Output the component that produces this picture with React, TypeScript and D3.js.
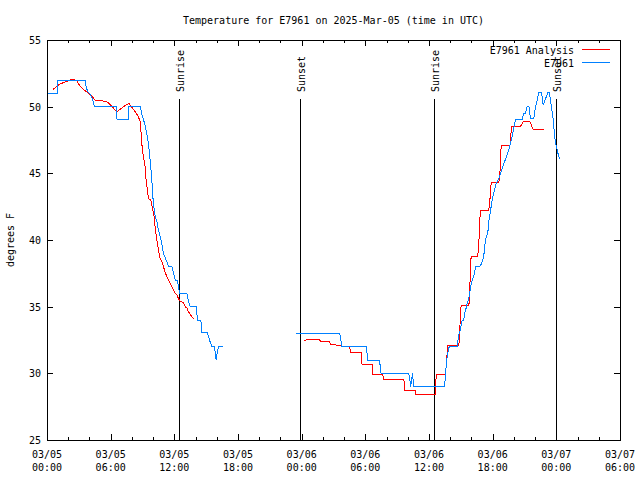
import React from "react";
import * as d3 from "d3";

// ---- data (hours since 2025-03-05 00:00 UTC, degrees F) ----
const START = Date.UTC(2025, 2, 5, 0, 0);
const END = Date.UTC(2025, 2, 7, 6, 0);

const analysisSeries: [number, number | null][] = [
  [0.59, 51.3], [0.97, 51.55], [1.23, 51.7], [1.86, 51.9], [2.17, 52.0], [2.48, 52.05],
  [2.8, 51.95], [2.95, 51.75], [3.11, 51.55], [3.42, 51.3], [3.84, 51.05], [4.06, 50.9],
  [4.31, 50.7], [4.53, 50.5], [5.0, 50.45], [5.47, 50.4], [5.78, 50.3], [6.01, 50.1],
  [6.25, 49.9], [6.58, 49.6], [6.89, 49.8], [7.2, 50.0], [7.52, 50.15], [7.71, 50.25],
  [7.9, 50.05], [8.14, 49.8], [8.37, 49.55], [8.61, 49.25], [8.77, 48.9], [8.87, 48.0],
  [8.93, 47.25], [9.08, 46.25], [9.25, 45.5], [9.34, 44.5], [9.46, 43.75], [9.56, 43.1],
  [9.78, 43.0], [9.97, 42.25], [10.09, 41.75], [10.19, 41.0], [10.35, 40.0], [10.5, 39.25],
  [10.66, 38.6], [10.82, 38.4], [10.97, 38.0], [11.13, 37.6], [11.29, 37.25], [11.44, 37.0],
  [11.6, 36.75], [11.76, 36.5], [11.92, 36.25], [12.08, 36.0], [12.24, 35.9], [12.39, 35.6],
  [12.55, 35.4], [12.86, 35.3], [13.02, 35.0], [13.18, 34.9], [13.33, 34.6], [13.49, 34.45],
  [13.65, 34.25], [13.8, 34.1],
  [18.0, null],
  [24.18, 32.45], [24.65, 32.55], [25.7, 32.55], [25.75, 32.4], [26.63, 32.4], [26.7, 32.15],
  [27.7, 32.1], [27.76, 32.05], [28.49, 32.0], [28.63, 31.6], [29.62, 31.6], [29.69, 30.7],
  [30.63, 30.7], [30.71, 29.9], [31.65, 29.9], [31.73, 29.55], [33.63, 29.55], [33.73, 28.75],
  [34.67, 28.75], [34.76, 28.45], [36.6, 28.45], [36.68, 29.9], [37.55, 29.9], [37.61, 30.5],
  [37.71, 31.5], [37.78, 32.1], [38.8, 32.1], [38.87, 32.6], [38.96, 34.4], [39.03, 35.1],
  [39.75, 35.1], [39.81, 35.5], [39.91, 37.9], [39.97, 38.75], [40.59, 38.75], [40.69, 39.6],
  [40.78, 41.4], [40.85, 42.25], [41.63, 42.25], [41.73, 42.9], [41.86, 44.3], [42.58, 44.3],
  [42.67, 44.9], [42.74, 45.75], [42.8, 47.1], [43.63, 47.1], [43.74, 48.1], [43.82, 48.5],
  [44.62, 48.5], [44.78, 48.75], [44.93, 48.9], [45.5, 48.9], [45.71, 48.5], [45.82, 48.3],
  [46.84, 48.3],
];

const observedSeries: [number, number | null][] = [
  [0.1, 51.0], [0.95, 51.0], [0.98, 52.0], [3.65, 52.0], [3.68, 51.5], [3.85, 51.1], [4.0, 51.0],
  [4.2, 50.75], [4.35, 50.4], [4.45, 50.05], [6.5, 50.05], [6.6, 49.05], [7.65, 49.05],
  [7.72, 50.05], [8.77, 50.05], [8.95, 49.4], [9.1, 49.0], [9.25, 48.6], [9.4, 48.0],
  [9.56, 47.25], [9.72, 46.0], [9.88, 44.5], [10.0, 43.0], [10.16, 41.9], [10.35, 41.4],
  [10.5, 40.75], [10.66, 40.25], [10.82, 39.75], [10.97, 39.0], [11.23, 38.5], [11.44, 38.05],
  [11.76, 38.05], [11.92, 37.5], [12.08, 37.0], [12.29, 37.0], [12.39, 36.5], [12.48, 36.0],
  [13.18, 36.0], [13.33, 35.4], [13.49, 35.0], [14.06, 35.0], [14.18, 34.0], [14.5, 34.0],
  [14.59, 33.05], [15.12, 33.05], [15.31, 32.5], [15.54, 32.0], [15.75, 32.0], [15.85, 31.6],
  [15.94, 31.0], [16.07, 31.7], [16.2, 32.0], [16.58, 32.0],
  [20.0, null],
  [23.49, 33.0], [27.58, 33.0], [27.71, 32.4], [27.74, 32.05], [30.07, 32.05], [30.16, 31.5],
  [30.25, 30.95], [31.32, 30.95], [31.42, 30.5], [31.48, 30.0], [34.08, 30.0], [34.18, 29.6],
  [34.27, 29.0], [34.37, 29.6], [34.46, 30.0], [34.53, 29.05], [37.48, 29.05], [37.58, 30.25],
  [37.71, 31.25], [37.86, 31.9], [37.95, 32.05], [38.65, 32.05], [38.8, 32.9], [38.9, 33.1],
  [39.03, 33.6], [39.12, 34.0], [39.27, 34.0], [39.37, 34.5], [39.5, 34.9], [39.59, 35.25],
  [39.75, 35.6], [39.84, 36.0], [39.91, 36.4], [40.0, 36.75], [40.12, 37.1], [40.28, 37.5],
  [40.38, 38.0], [40.85, 38.05], [41.01, 38.4], [41.16, 38.75], [41.23, 39.4], [41.32, 40.0],
  [41.48, 40.4], [41.57, 40.75], [41.63, 41.4], [41.73, 41.75], [41.79, 42.25], [41.89, 42.6],
  [41.95, 43.0], [42.05, 43.4], [42.17, 43.75], [42.26, 44.05], [42.42, 44.4], [42.58, 44.6],
  [42.74, 45.0], [42.9, 45.4], [43.05, 45.75], [43.21, 46.05], [43.37, 46.4], [43.52, 46.75],
  [43.68, 47.25], [43.84, 47.75], [43.99, 48.4], [44.15, 49.05], [44.78, 49.05], [44.93, 49.5],
  [45.09, 49.5], [45.25, 50.05], [45.41, 50.05], [45.57, 49.1], [45.88, 49.1], [46.04, 50.0],
  [46.2, 50.5], [46.35, 51.05], [46.6, 51.05], [46.68, 50.6], [46.76, 50.1], [46.89, 50.4],
  [47.08, 50.8], [47.2, 51.05], [47.33, 51.05], [47.45, 50.5], [47.61, 49.6], [47.71, 49.0],
  [47.76, 48.5], [47.92, 47.25], [48.08, 46.75], [48.23, 46.25], [48.33, 46.05],
];

const sunEvents: [number, string][] = [
  [12.45, "Sunrise"],
  [23.85, "Sunset"],
  [36.47, "Sunrise"],
  [47.97, "Sunset"],
];

const yTicks = [25, 30, 35, 40, 45, 50, 55];
const seriesNames = ["E7961 Analysis", "E7961"];
const seriesColors = ["#ff0000", "#0080ff"];
const titleText = "Temperature for E7961 on 2025-Mar-05 (time in UTC)";
const yLabel = "degrees F";

const W = 640;
const H = 480;
const L = 47;
const R = 620;
const T = 40;
const B = 440;
const FONT = "'DejaVu Sans Mono', monospace";

const toDate = (h: number) => new Date(START + h * 3600e3);

export default function App() {
  const x = d3.scaleUtc().domain([new Date(START), new Date(END)]).range([L, R]);
  const y = d3.scaleLinear().domain([25, 55]).range([B, T]);

  const line = d3
    .line<[number, number | null]>()
    .defined((d) => d[1] !== null)
    .x((d) => x(toDate(d[0])))
    .y((d) => y(d[1] as number));

  const majorTicks = x.ticks(d3.utcHour.every(6) as any);
  const minorTicks = x.ticks(d3.utcHour.every(2) as any);
  const fDate = d3.utcFormat("%m/%d");
  const fTime = d3.utcFormat("%H:%M");
  const px = (v: number) => Math.round(v) + 0.5;

  return (
    <svg
      width={W}
      height={H}
      style={{ position: "absolute", left: 0, top: 0, background: "#fff" }}
      fontFamily={FONT}
      fontSize={10}
    >
      <rect x={0} y={0} width={W} height={H} fill="#fff" />
      {/* title */}
      <text x={(L + R) / 2} y={24} textAnchor="middle" fill="#000">
        {titleText}
      </text>
      {/* y label */}
      <text
        transform={`translate(14,${(T + B) / 2}) rotate(-90)`}
        textAnchor="middle"
        fill="#000"
      >
        {yLabel}
      </text>

      {/* ticks */}
      <g stroke="#000" strokeWidth={1} shapeRendering="crispEdges">
        {minorTicks.map((t, i) => (
          <g key={"mn" + i}>
            <line x1={px(x(t))} x2={px(x(t))} y1={B} y2={B - 3} />
            <line x1={px(x(t))} x2={px(x(t))} y1={T} y2={T + 3} />
          </g>
        ))}
        {majorTicks.map((t, i) => (
          <g key={"mj" + i}>
            <line x1={px(x(t))} x2={px(x(t))} y1={B} y2={B - 6} />
            <line x1={px(x(t))} x2={px(x(t))} y1={T} y2={T + 6} />
          </g>
        ))}
        {yTicks.map((v) => (
          <g key={"yt" + v}>
            <line x1={L} x2={L + 6} y1={px(y(v))} y2={px(y(v))} />
            <line x1={R - 6} x2={R} y1={px(y(v))} y2={px(y(v))} />
          </g>
        ))}
      </g>

      {/* tick labels */}
      {yTicks.map((v) => (
        <text key={"yl" + v} x={L - 6} y={y(v) + 4} textAnchor="end" fill="#000">
          {v}
        </text>
      ))}
      {majorTicks.map((t, i) => (
        <g key={"xl" + i}>
          <text x={x(t)} y={458} textAnchor="middle" fill="#000">
            {fDate(t)}
          </text>
          <text x={x(t)} y={471} textAnchor="middle" fill="#000">
            {fTime(t)}
          </text>
        </g>
      ))}

      {/* sunrise / sunset */}
      {sunEvents.map(([h, label], i) => {
        const sx = px(x(toDate(h)));
        return (
          <g key={"sun" + i}>
            <line
              x1={sx}
              x2={sx}
              y1={99}
              y2={B}
              stroke="#000"
              strokeWidth={1}
              shapeRendering="crispEdges"
            />
            <text
              transform={`translate(${sx + 4},92) rotate(-90)`}
              textAnchor="start"
              fill="#000"
            >
              {label}
            </text>
          </g>
        );
      })}

      {/* data */}
      <path
        d={line(analysisSeries) || ""}
        fill="none"
        stroke={seriesColors[0]}
        strokeWidth={1}
        shapeRendering="crispEdges"
      />
      <path
        d={line(observedSeries) || ""}
        fill="none"
        stroke={seriesColors[1]}
        strokeWidth={1}
        shapeRendering="crispEdges"
      />

      {/* legend */}
      {seriesNames.map((name, i) => (
        <g key={"lg" + i}>
          <text x={574} y={54 + i * 13} textAnchor="end" fill="#000">
            {name}
          </text>
          <line
            x1={582}
            x2={610}
            y1={49.5 + i * 13}
            y2={49.5 + i * 13}
            stroke={seriesColors[i]}
            strokeWidth={1}
            shapeRendering="crispEdges"
          />
        </g>
      ))}

      {/* frame */}
      <rect
        x={L + 0.5}
        y={T + 0.5}
        width={R - L}
        height={B - T}
        fill="none"
        stroke="#000"
        strokeWidth={1}
        shapeRendering="crispEdges"
      />
    </svg>
  );
}
